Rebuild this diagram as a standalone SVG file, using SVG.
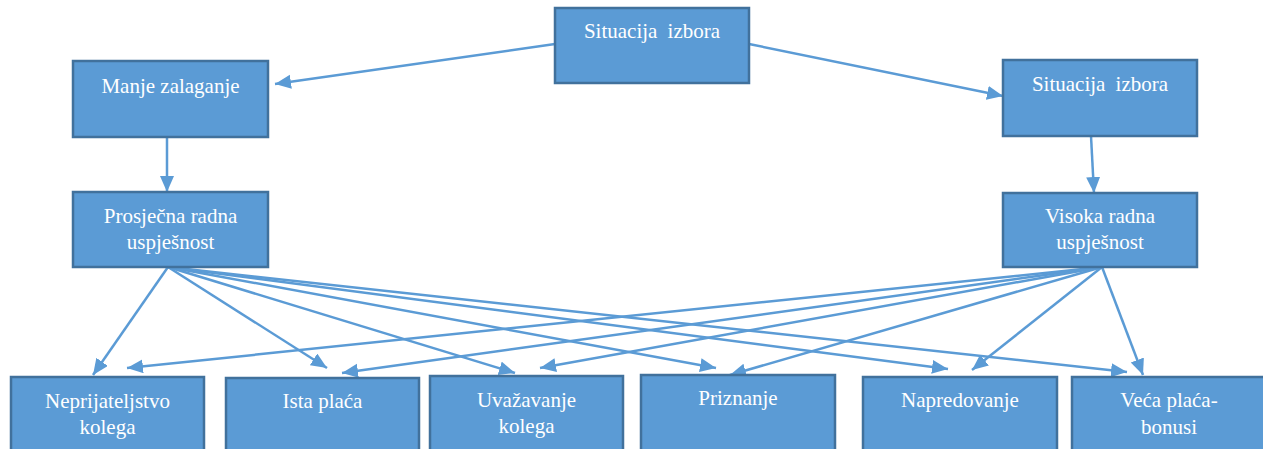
<svg xmlns="http://www.w3.org/2000/svg" width="1263" height="449" viewBox="0 0 1263 449">
<style>
.box{fill:#5B9BD5;stroke:#41719C;stroke-width:2.5}
.lbl{font-family:'Liberation Serif','Times New Roman','DejaVu Serif',serif;font-size:21px;fill:#FFFFFF;text-anchor:middle}
.conn{stroke:#5B9BD5;stroke-width:2.5;fill:none;marker-end:url(#ah)}
</style>
<defs>
<marker id="ah" markerUnits="userSpaceOnUse" markerWidth="17" markerHeight="15" refX="16" refY="7" orient="auto">
<path d="M0,0 L16,7 L0,14 z" fill="#5B9BD5"/>
</marker>
</defs>
<rect width="1263" height="449" fill="#FFFFFF"/>
<g id="connectors">
<line class="conn" x1="555" y1="44" x2="275" y2="84"/>
<line class="conn" x1="749" y1="44" x2="1003" y2="96"/>
<line class="conn" x1="167" y1="137" x2="167" y2="192"/>
<line class="conn" x1="1091" y1="136" x2="1094" y2="193"/>
<line class="conn" x1="168" y1="267" x2="93" y2="375"/>
<line class="conn" x1="168" y1="267" x2="327" y2="368"/>
<line class="conn" x1="168" y1="267" x2="515" y2="373"/>
<line class="conn" x1="168" y1="267" x2="716" y2="368"/>
<line class="conn" x1="168" y1="267" x2="948" y2="369"/>
<line class="conn" x1="168" y1="267" x2="1127" y2="372"/>
<line class="conn" x1="1102" y1="267" x2="127" y2="368"/>
<line class="conn" x1="1102" y1="267" x2="342" y2="373"/>
<line class="conn" x1="1102" y1="267" x2="540" y2="368"/>
<line class="conn" x1="1102" y1="267" x2="730" y2="375"/>
<line class="conn" x1="1102" y1="267" x2="972" y2="370"/>
<line class="conn" x1="1102" y1="267" x2="1143" y2="375"/>
</g>
<g id="n-top">
<rect class="box" x="555" y="8" width="194" height="75"/>
<text class="lbl" x="652" y="38" word-spacing="5">Situacija izbora</text>
</g>
<g id="n-manje">
<rect class="box" x="73" y="61" width="195" height="76"/>
<text class="lbl" x="170.5" y="93">Manje zalaganje</text>
</g>
<g id="n-situacija-r">
<rect class="box" x="1003" y="60" width="194" height="76"/>
<text class="lbl" x="1100" y="91" word-spacing="5">Situacija izbora</text>
</g>
<g id="n-prosjecna">
<rect class="box" x="73" y="192" width="195" height="75"/>
<text class="lbl" x="170.5" y="223">Prosječna radna</text>
<text class="lbl" x="170.5" y="249">uspješnost</text>
</g>
<g id="n-visoka">
<rect class="box" x="1003" y="193" width="194" height="74"/>
<text class="lbl" x="1100" y="223">Visoka radna</text>
<text class="lbl" x="1100" y="249">uspješnost</text>
</g>
<g id="n-neprijateljstvo">
<rect class="box" x="11" y="377" width="193" height="80"/>
<text class="lbl" x="107.5" y="408">Neprijateljstvo</text>
<text class="lbl" x="107.5" y="434">kolega</text>
</g>
<g id="n-ista">
<rect class="box" x="226" y="378" width="193" height="80"/>
<text class="lbl" x="322.5" y="408">Ista plaća</text>
</g>
<g id="n-uvazavanje">
<rect class="box" x="430" y="376" width="193" height="80"/>
<text class="lbl" x="526.5" y="407">Uvažavanje</text>
<text class="lbl" x="526.5" y="433">kolega</text>
</g>
<g id="n-priznanje">
<rect class="box" x="641" y="375" width="194" height="80"/>
<text class="lbl" x="738" y="405">Priznanje</text>
</g>
<g id="n-napredovanje">
<rect class="box" x="863" y="377" width="194" height="80"/>
<text class="lbl" x="960" y="407">Napredovanje</text>
</g>
<g id="n-veca">
<rect class="box" x="1072" y="377" width="194" height="80"/>
<text class="lbl" x="1169" y="407">Veća plaća-</text>
<text class="lbl" x="1169" y="434">bonusi</text>
</g>
</svg>
